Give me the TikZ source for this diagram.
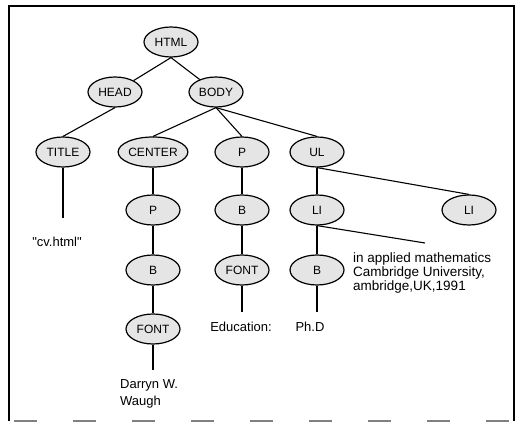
\documentclass[tikz,border=0pt]{standalone}
\usepackage{fontspec}
\setmainfont{Liberation Sans}
\usetikzlibrary{shapes.geometric}

\tikzset{
  tag/.style={ellipse, draw, line width=1.2pt, fill=gray!20, minimum width=54pt, minimum height=30pt, inner sep=0pt, font=\fontsize{12}{14}\selectfont},
  leaf/.style={inner sep=0pt, font=\fontsize{13}{13.5}\selectfont},
  edge/.style={line width=1.1pt}
}

\begin{document}
\begin{tikzpicture}[x=1pt,y=-1pt]
\useasboundingbox (0,0) rectangle (516,422);
% Draw the frame
\draw[line width=1.3pt] (9,421) -- (9,6) -- (514,6) -- (514,421);
\draw[gray, line width=1.5pt, dash pattern=on 23pt off 36pt] (14,421) -- (514,421);
% Draw the tag nodes
\node[tag] (html) at (171,42) {HTML};
\node[tag] (head) at (115,92) {HEAD};
\node[tag] (body) at (216,92) {BODY};
\node[tag] (title) at (63,152) {TITLE};
\node[tag] (center) at (153,152) {CENTER};
\node[tag] (p1) at (242,152) {P};
\node[tag] (ul) at (317,152) {UL};
\node[tag] (p2) at (153,210) {P};
\node[tag] (b1) at (242,210) {B};
\node[tag] (li1) at (317,210) {LI};
\node[tag] (li2) at (469,210) {LI};
\node[tag] (b2) at (153,270) {B};
\node[tag] (font1) at (242,270) {FONT};
\node[tag] (b3) at (317,270) {B};
\node[tag] (font2) at (153,329) {FONT};
% Label the text leaves
\node[leaf] (cv) at (57,242) {\textquotedbl cv.html\textquotedbl};
\node[leaf] (edu) at (241,327) {Education:};
\node[leaf] (phd) at (310,327) {Ph.D};
\node[leaf, anchor=west, align=left, font=\fontsize{13.5}{14}\selectfont] (degree) at (353,273) {in applied mathematics\\Cambridge University,\\ambridge,UK,1991};
\node[leaf, anchor=north west, align=left, font=\fontsize{13}{17}\selectfont] (name) at (120,379) {Darryn W.\\Waugh};
% Free ends of the leaf lines
\coordinate (titleend) at (63,218);
\coordinate (font2end) at (153,370);
\coordinate (font1end) at (242,312);
\coordinate (b3end) at (317,312);
\coordinate (li1end) at (425,243);
% Draw the connectors
\draw[edge] (html.south) -- (head);
\draw[edge] (html.south) -- (body);
\draw[edge] (head.south) -- (title.north);
\draw[edge] (body.south) -- (center.north);
\draw[edge] (body.south) -- (p1.north);
\draw[edge] (body.south) -- (ul.north);
\draw[edge] (title.south) -- (titleend);
\draw[edge] (center) -- (p2) -- (b2) -- (font2);
\draw[edge] (font2.south) -- (font2end);
\draw[edge] (p1) -- (b1) -- (font1);
\draw[edge] (font1.south) -- (font1end);
\draw[edge] (ul) -- (li1) -- (b3);
\draw[edge] (b3.south) -- (b3end);
\draw[edge] (ul.south) -- (li2.north);
\draw[edge] (li1.south) -- (li1end);
\end{tikzpicture}
\end{document}
